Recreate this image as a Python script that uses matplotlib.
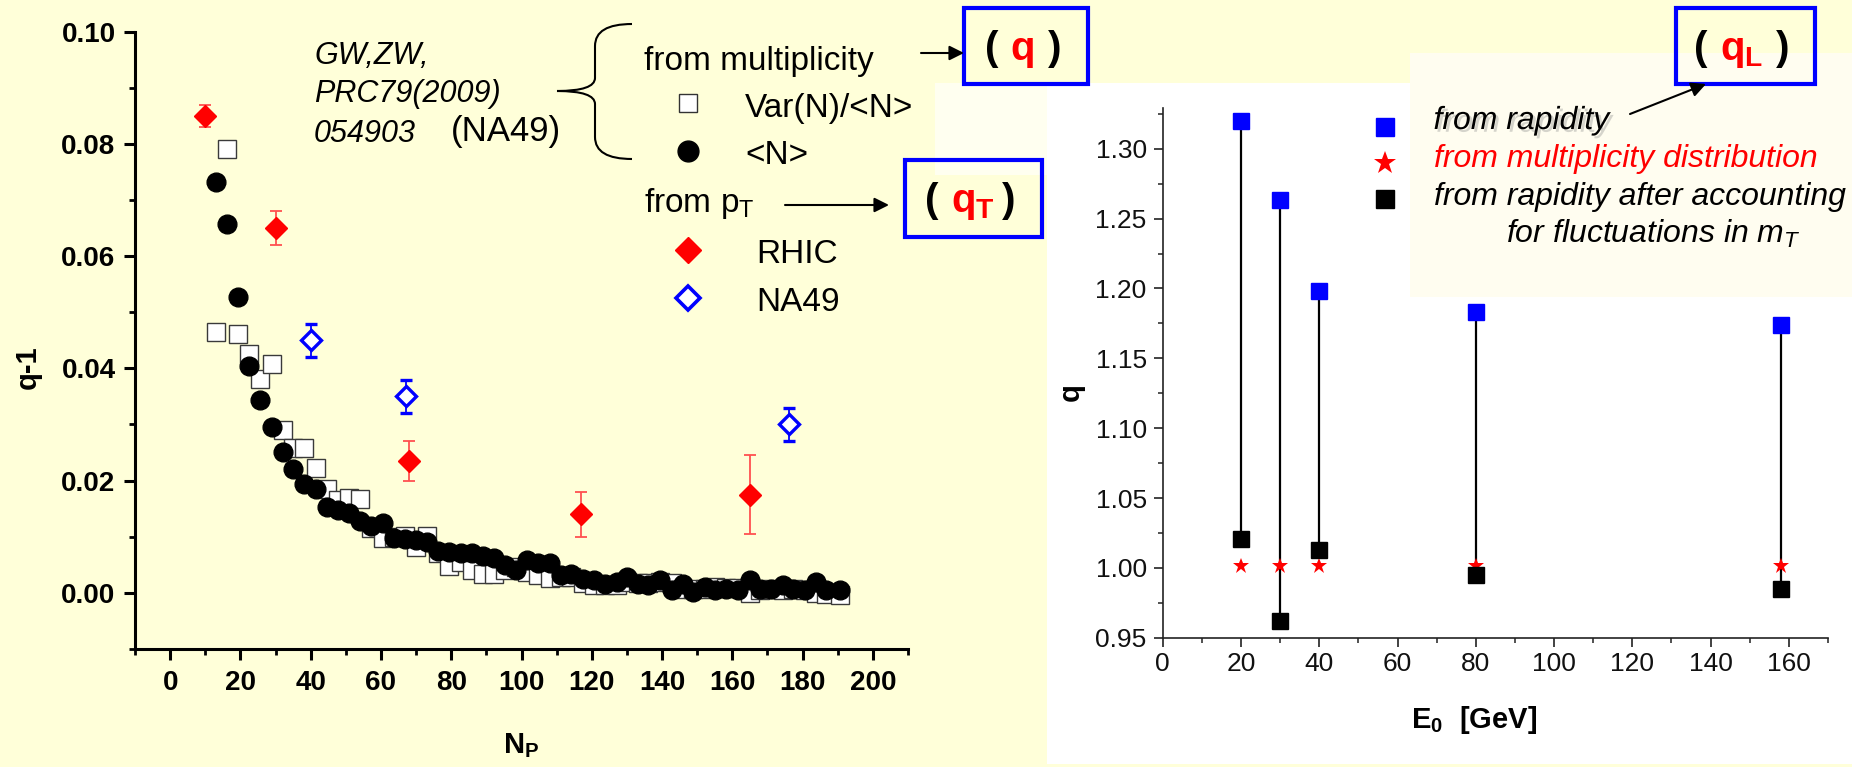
import matplotlib
matplotlib.use('Agg')
import matplotlib.pyplot as plt
import matplotlib.patheffects as pe
from matplotlib.patches import Rectangle, PathPatch
from matplotlib.path import Path
from matplotlib.ticker import MultipleLocator, FormatStrFormatter

plt.rcParams['font.family'] = ['Liberation Sans', 'DejaVu Sans']
plt.rcParams['mathtext.fontset'] = 'custom'
plt.rcParams['mathtext.rm'] = 'Liberation Sans'
plt.rcParams['mathtext.it'] = 'Liberation Sans:italic'
plt.rcParams['mathtext.bf'] = 'Liberation Sans:bold'

# ---- left panel: q-1 vs N_P (NA49 multiplicity, pT fits) ----
np_bins = [13.0, 16.2, 19.4, 22.4, 25.7, 28.9, 32.0, 35.0, 38.2, 41.5,
           44.6, 47.8, 51.0, 54.1, 57.3, 60.5, 63.7, 66.8, 70.0, 73.2,
           76.3, 79.5, 82.8, 85.8, 89.0, 92.2, 95.3, 98.5, 101.5, 104.7,
           108.0, 111.2, 114.2, 117.4, 120.5, 123.7, 127.1, 129.9, 133.2, 136.1,
           139.4, 142.7, 146.0, 148.8, 152.2, 155.0, 158.3, 161.6, 165.0, 167.8,
           171.1, 174.4, 177.3, 180.6, 183.9, 186.8, 190.6]
q_var = [0.0465, 0.0792, 0.0461, 0.0425, 0.0381, 0.0407, 0.0290, 0.0258, 0.0258, 0.0223,
         0.0184, 0.0166, 0.0169, 0.0167, 0.0115, 0.0097, 0.0099, 0.0101, 0.0082, 0.0101,
         0.0071, 0.0047, 0.0055, 0.0040, 0.0034, 0.0034, 0.0040, 0.0045, 0.0036, 0.0031,
         0.0026, 0.0028, 0.0028, 0.0017, 0.0013, 0.0013, 0.0014, 0.0019, 0.0017, 0.0017,
         0.0019, 0.0017, 0.0006, 0.0006, 0.0006, 0.0010, 0.0008, 0.0008, -0.0001, 0.0004,
         0.0006, 0.0005, 0.0006, 0.0005, 0.0000, -0.0002, -0.0004]
q_mean = [0.0732, 0.0657, 0.0528, 0.0404, 0.0344, 0.0295, 0.0250, 0.0221, 0.0193, 0.0184,
          0.0153, 0.0147, 0.0142, 0.0127, 0.0118, 0.0124, 0.0097, 0.0096, 0.0094, 0.0091,
          0.0075, 0.0073, 0.0071, 0.0070, 0.0066, 0.0061, 0.0049, 0.0040, 0.0058, 0.0053,
          0.0052, 0.0031, 0.0034, 0.0024, 0.0022, 0.0016, 0.0019, 0.0028, 0.0016, 0.0013,
          0.0022, 0.0004, 0.0016, 0.0001, 0.0010, 0.0004, 0.0007, 0.0004, 0.0022, 0.0007,
          0.0007, 0.0013, 0.0007, 0.0004, 0.0019, 0.0004, 0.0004]

rhic_np = [10, 30, 68, 117, 165]
rhic_q = [0.085, 0.065, 0.0235, 0.014, 0.0175]
rhic_err = [0.002, 0.003, 0.0035, 0.004, 0.007]

na49_np = [40, 67, 176]
na49_q = [0.045, 0.035, 0.030]
na49_err = [0.003, 0.003, 0.003]

# ---- right panel: q vs E0 ----
e0 = [20, 30, 40, 80, 158]
q_rap = [1.320, 1.263, 1.198, 1.183, 1.174]
q_mult = [1.001, 1.001, 1.001, 1.001, 1.001]
q_rap_corr = [1.021, 0.962, 1.013, 0.995, 0.985]

W, H = 1852, 767
BG = '#ffffd9'


def px_rect(l, t, r, b):
    return [l / W, 1 - b / H, (r - l) / W, (b - t) / H]


fig = plt.figure(figsize=(W / 100, H / 100), dpi=100, facecolor=BG)

# background panels (pixel coords)
bg = fig.add_axes([0, 0, 1, 1], zorder=-1)
bg.set_xlim(0, W)
bg.set_ylim(H, 0)
bg.axis('off')
bg.add_patch(Rectangle((1047, 83), 805, 681, fc='white', ec='none'))
bg.add_patch(Rectangle((1410, 53), 442, 244, fc='#fffdf0', ec='none'))
bg.add_patch(Rectangle((935, 83), 112, 92, fc='#fffff0', ec='none'))

# ---------------- left axes ----------------
ax1 = fig.add_axes(px_rect(135, 32, 908, 648.7))
ax1.set_facecolor('none')
ax1.plot(np_bins, q_var, 's', ms=13, mfc='white', mec='#3a3a3a', mew=1.0, zorder=3)
ax1.plot(np_bins, q_mean, 'o', ms=13.5, color='black', mec='black', zorder=4)
ax1.errorbar(rhic_np, rhic_q, yerr=rhic_err, fmt='D', ms=11.7, mfc='red', mec='red',
             ecolor='#ff5050', elinewidth=1.3, capsize=4.6, capthick=1.3, zorder=5)
ax1.errorbar(na49_np, na49_q, yerr=na49_err, fmt='D', ms=10.5, mfc='white', mec='#0000ff',
             mew=2.4, ecolor='#0000ff', elinewidth=1.3, capsize=4.6, capthick=1.3, zorder=5)
ax1.set_xlim(-10, 210)
ax1.set_ylim(-0.01, 0.10)
for s in ['top', 'right']:
    ax1.spines[s].set_visible(False)
for s in ['left', 'bottom']:
    ax1.spines[s].set_linewidth(2.2)
ax1.xaxis.set_major_locator(MultipleLocator(20))
ax1.xaxis.set_minor_locator(MultipleLocator(10))
ax1.yaxis.set_major_locator(MultipleLocator(0.02))
ax1.yaxis.set_minor_locator(MultipleLocator(0.01))
ax1.yaxis.set_major_formatter(FormatStrFormatter('%.2f'))
ax1.tick_params(which='major', direction='out', length=8, width=2.2, labelsize=20)
ax1.tick_params(which='minor', direction='out', length=4.5, width=2.0)
ax1.tick_params(axis='x', which='major', pad=7)
ax1.tick_params(axis='y', which='major', pad=6)
for lab in ax1.get_xticklabels() + ax1.get_yticklabels():
    lab.set_fontweight('bold')

# ---------------- right axes ----------------
ax2 = fig.add_axes(px_rect(1162.7, 108.3, 1828, 637.7))
ax2.set_facecolor('none')
ax2.vlines(e0, q_rap_corr, q_rap, color='black', lw=1.6, zorder=2)
ax2.plot(e0, q_rap, 's', ms=11, color='#0000ff', zorder=3)
ax2.plot(e0, q_mult, '*', ms=12, color='#ff0000', mew=0, zorder=4)
ax2.plot(e0, q_rap_corr, 's', ms=11, color='black', zorder=5)
ax2.set_xlim(0, 170)
ax2.set_ylim(0.95, 1.329)
for s in ['top', 'right']:
    ax2.spines[s].set_visible(False)
for s in ['left', 'bottom']:
    ax2.spines[s].set_linewidth(1.2)
    ax2.spines[s].set_color('#222222')
ax2.xaxis.set_major_locator(MultipleLocator(20))
ax2.xaxis.set_minor_locator(MultipleLocator(10))
ax2.yaxis.set_major_locator(MultipleLocator(0.05))
ax2.yaxis.set_minor_locator(MultipleLocator(0.025))
ax2.yaxis.set_major_formatter(FormatStrFormatter('%.2f'))
ax2.tick_params(which='major', direction='out', length=6.5, width=1.2, color='#222222',
                labelsize=19, labelcolor='#111111')
ax2.tick_params(which='minor', direction='out', length=3.5, width=1.1, color='#222222')
ax2.tick_params(axis='x', which='major', pad=4)
ax2.tick_params(axis='y', which='major', pad=5)

# ---------------- overlay: labels, legends, boxes ----------------
ov = fig.add_axes([0, 0, 1, 1], zorder=10)
ov.set_xlim(0, W)
ov.set_ylim(H, 0)
ov.axis('off')

# axis titles
ov.text(28, 367, 'q-1', rotation=90, ha='center', va='center', fontsize=21, fontweight='bold')
ov.text(521, 753, r'N$_\mathregular{P}$', ha='center', va='baseline', fontsize=21, fontweight='bold')
ov.text(1071, 392, 'q', rotation=90, ha='center', va='center', fontsize=21, fontweight='bold')
ov.text(1474, 728, r'E$_\mathregular{0}$  [GeV]', ha='center', va='baseline', fontsize=21,
        fontweight='bold')

# citation
ov.text(314, 64, 'GW,ZW,', fontsize=22, style='italic', va='baseline')
ov.text(314, 102, 'PRC79(2009)', fontsize=22, style='italic', va='baseline')
ov.text(314, 141.5, '054903', fontsize=22, style='italic', va='baseline')
ov.text(451, 141.5, '(NA49)', fontsize=25, va='baseline')

# curly brace
brace = Path([(632, 24), (595, 24), (595, 46), (595, 78), (595, 91), (557, 91),
              (595, 91), (595, 104), (595, 137), (595, 159), (632, 159)],
             [Path.MOVETO, Path.CURVE3, Path.CURVE3, Path.LINETO, Path.CURVE3, Path.CURVE3,
              Path.CURVE3, Path.CURVE3, Path.LINETO, Path.CURVE3, Path.CURVE3])
ov.add_patch(PathPatch(brace, fill=False, lw=1.5, ec='black'))

# left legend
ov.text(643.5, 70, 'from multiplicity', fontsize=24, va='baseline')
ov.plot([687.5], [103], 's', ms=13, mfc='white', mec='#333333', mew=1.0)
ov.text(745, 117, 'Var(N)/<N>', fontsize=24, va='baseline')
ov.plot([687.5], [151], 'o', ms=15, color='black')
ov.text(745, 164, '<N>', fontsize=24, va='baseline')
ov.text(643.5, 212, r'from p$_\mathregular{T}$', fontsize=24, va='baseline')
ov.plot([688], [250], 'D', ms=13.5, color='red')
ov.text(756, 263, 'RHIC', fontsize=24, va='baseline')
ov.plot([688], [298], 'D', ms=12, mfc='white', mec='#0000ff', mew=2.6)
ov.text(756, 311, 'NA49', fontsize=24, va='baseline')

arrow_kw = dict(arrowstyle='-|>', color='black', lw=1.5, mutation_scale=22,
                shrinkA=0, shrinkB=0)
ov.annotate('', xy=(964, 53), xytext=(921, 53), arrowprops=arrow_kw)
ov.annotate('', xy=(889, 205), xytext=(785, 205), arrowprops=arrow_kw)
ov.annotate('', xy=(1706, 84), xytext=(1630, 114), arrowprops=arrow_kw)

# blue boxes with q labels
box_kw = dict(fill=False, ec='#0000ff', lw=3)
ov.add_patch(Rectangle((964, 8), 123.5, 75.5, **box_kw))
ov.add_patch(Rectangle((905, 160), 136.5, 77, **box_kw))
ov.add_patch(Rectangle((1676, 7.5), 139, 76.5, **box_kw))

qkw = dict(fontsize=29, fontweight='bold', va='baseline')
ov.text(991.5, 60, '(', ha='center', **qkw)
ov.text(1022.5, 60, 'q', ha='center', color='red', **qkw)
ov.text(1055, 60, ')', ha='center', **qkw)
ov.text(931.5, 212, '(', ha='center', **qkw)
ov.text(951, 212, r'q$_\mathregular{T}$', ha='left', color='red', **qkw)
ov.text(1009, 212, ')', ha='center', **qkw)
ov.text(1700.5, 60, '(', ha='center', **qkw)
ov.text(1720, 60, r'q$_\mathregular{L}$', ha='left', color='red', **qkw)
ov.text(1783, 60, ')', ha='center', **qkw)

# right legend
shadow = [pe.withSimplePatchShadow(offset=(2, -2), shadow_rgbFace='#888888', alpha=0.35)]
ov.plot([1384.5], [126.5], 's', ms=13.5, color='#0000ff')
ov.plot([1384.5], [162.5], '*', ms=17, color='#ff0000', mew=0)
ov.plot([1384.5], [199], 's', ms=13.5, color='black')
ov.text(1433.5, 129, 'from rapidity', fontsize=23, style='italic', va='baseline',
        path_effects=shadow)
ov.text(1433.5, 166.5, 'from multiplicity distribution', fontsize=23, style='italic',
        color='#ff0000', va='baseline')
ov.text(1433.5, 205, 'from rapidity after accounting', fontsize=23, style='italic',
        va='baseline')
ov.text(1506, 243, r'for fluctuations in m$_\mathregular{T}$', fontsize=23, style='italic',
        va='baseline')

fig.savefig('out.png', dpi=100, facecolor=fig.get_facecolor())
